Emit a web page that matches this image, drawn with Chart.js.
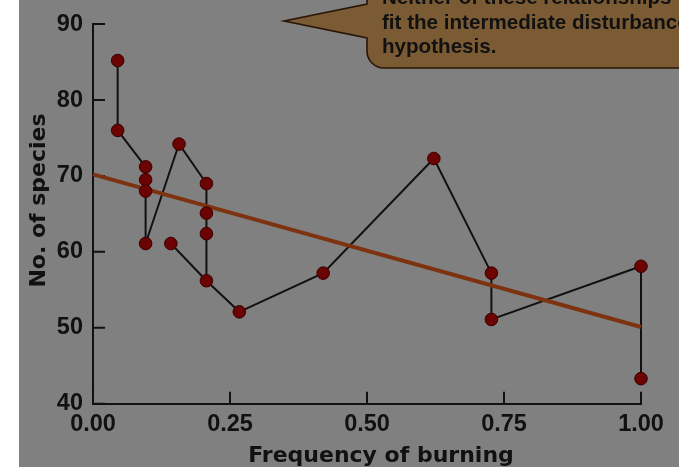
<!DOCTYPE html>
<html>
<head>
<meta charset="utf-8">
<script src="https://cdn.jsdelivr.net/npm/chart.js@4.4.1/dist/chart.umd.min.js"></script>
<style>
  html, body { margin: 0; padding: 0; background: #ffffff; }
  canvas { display: block; }
</style>
</head>
<body>
<canvas id="c" width="679" height="467"></canvas>
<script>
// Site-by-site species richness against burning frequency, joined in sequence
const burnFrequency = [0.045, 0.045, 0.096, 0.096, 0.096, 0.096, 0.157, 0.207, 0.207, 0.207, 0.207, 0.267, 0.42, 0.622, 0.727, 0.727, 1.0, 1.0];
const speciesCount  = [85.2, 76.0, 71.2, 69.5, 68.0, 61.1, 74.2, 69.0, 65.1, 62.4, 56.2, 52.1, 57.2, 72.3, 57.2, 51.1, 58.1, 43.3];

// Side branch joining the 0.14 site to the sequence
const branchFrequency = [0.142, 0.207];
const branchSpecies   = [61.1, 56.2];

// Linear regression through all sites
const fitFrequency = [0, 1];
const fitSpecies   = [70.2, 50.1];

const xTickValues = [0, 0.25, 0.5, 0.75, 1];
const yTickValues = [40, 50, 60, 70, 80, 90];

const xTitle = 'Frequency of burning';
const yTitle = 'No. of species';
const noteLines = ['Neither of these relationships', 'fit the intermediate disturbance', 'hypothesis.'];

const pairs = (xs, ys) => xs.map((x, i) => ({ x: x, y: ys[i] }));

const INK = '#111111';
const TITLE_FONT = 'bold 22px "DejaVu Sans"';

// White margin strip, grey panel behind the plot
const backdrop = {
  id: 'backdrop',
  beforeDraw(chart) {
    const { ctx, width, height } = chart;
    ctx.save();
    ctx.fillStyle = '#ffffff';
    ctx.fillRect(0, 0, width, height);
    ctx.fillStyle = '#808080';
    ctx.fillRect(19, 0, width - 19, height);
    ctx.restore();
  }
};

// Tick marks pointing into the plot area
const innerTicks = {
  id: 'innerTicks',
  beforeDatasetsDraw(chart) {
    const { ctx, chartArea: a } = chart;
    const xs = chart.scales.x, ys = chart.scales.y;
    ctx.save();
    ctx.strokeStyle = INK;
    ctx.lineWidth = 2;
    ctx.beginPath();
    xs.ticks.forEach(t => {
      const px = xs.getPixelForValue(t.value);
      ctx.moveTo(px, a.bottom);
      ctx.lineTo(px, a.bottom - 12);
    });
    ys.ticks.forEach(t => {
      const py = ys.getPixelForValue(t.value);
      ctx.moveTo(a.left, py);
      ctx.lineTo(a.left + 12, py);
    });
    ctx.stroke();
    ctx.restore();
  }
};

// Axis titles
const axisTitles = {
  id: 'axisTitles',
  afterDraw(chart) {
    const { ctx } = chart;
    ctx.save();
    ctx.fillStyle = INK;
    ctx.font = TITLE_FONT;
    ctx.textAlign = 'center';
    ctx.textBaseline = 'alphabetic';
    ctx.fillText(xTitle, 381, 462);
    ctx.translate(45, 200.5);
    ctx.rotate(-Math.PI / 2);
    ctx.fillText(yTitle, 0, 0);
    ctx.restore();
  }
};

// Speech-bubble note in the upper right
const note = {
  id: 'note',
  afterDraw(chart) {
    const { ctx, width } = chart;
    const L = 367, B = 68, r = 17, tipX = 284, tipY = 21;
    ctx.save();
    ctx.beginPath();
    ctx.moveTo(width + 10, -10);
    ctx.lineTo(L, -10);
    ctx.lineTo(L, 4);
    ctx.lineTo(tipX, tipY);
    ctx.lineTo(L, 38);
    ctx.lineTo(L, B - r);
    ctx.arcTo(L, B, L + r, B, r);
    ctx.lineTo(width + 10, B);
    ctx.closePath();
    ctx.fillStyle = '#7b5b34';
    ctx.fill();
    ctx.strokeStyle = '#2a1606';
    ctx.lineWidth = 1.6;
    ctx.stroke();

    ctx.fillStyle = INK;
    ctx.font = 'bold 20.6px "Liberation Sans"';
    ctx.textAlign = 'left';
    ctx.textBaseline = 'alphabetic';
    const baselines = [4, 28.5, 53];
    noteLines.forEach((line, i) => ctx.fillText(line, 382, baselines[i]));
    ctx.restore();
  }
};

const tickFont = { family: 'Liberation Sans', size: 23.5, weight: 'bold' };

new Chart(document.getElementById('c'), {
  type: 'scatter',
  data: {
    datasets: [
      {
        label: 'sequence',
        data: pairs(burnFrequency, speciesCount),
        showLine: true,
        borderColor: INK,
        borderWidth: 2,
        pointRadius: 0,
        order: 3,
        clip: false
      },
      {
        label: 'branch',
        data: pairs(branchFrequency, branchSpecies),
        showLine: true,
        borderColor: INK,
        borderWidth: 2,
        pointRadius: 0,
        order: 3,
        clip: false
      },
      {
        label: 'regression',
        data: pairs(fitFrequency, fitSpecies),
        showLine: true,
        borderColor: '#7e3310',
        borderWidth: 4,
        pointRadius: 0,
        order: 2,
        clip: false
      },
      {
        label: 'sites',
        data: pairs(burnFrequency, speciesCount).concat(pairs(branchFrequency.slice(0, 1), branchSpecies.slice(0, 1))),
        showLine: false,
        pointRadius: 6.3,
        pointBackgroundColor: '#6b0303',
        pointBorderColor: '#3a0000',
        pointBorderWidth: 1,
        order: 1,
        clip: false
      }
    ]
  },
  options: {
    responsive: false,
    animation: false,
    devicePixelRatio: 1,
    layout: { padding: { left: 0, right: 38, top: 20.7, bottom: 0 } },
    plugins: {
      legend: { display: false },
      tooltip: { enabled: false },
      title: { display: false }
    },
    scales: {
      x: {
        type: 'linear',
        min: 0,
        max: 1,
        afterBuildTicks: s => { s.ticks = xTickValues.map(v => ({ value: v })); },
        afterFit: s => { s.height = 63.3; },
        grid: { display: true, drawOnChartArea: false, drawTicks: false },
        border: { display: true, color: INK, width: 2 },
        ticks: {
          padding: 7,
          color: INK,
          font: tickFont,
          maxRotation: 0,
          autoSkip: false,
          callback: v => Number(v).toFixed(2)
        }
      },
      y: {
        type: 'linear',
        min: 40,
        max: 90,
        afterBuildTicks: s => { s.ticks = yTickValues.map(v => ({ value: v })); },
        afterFit: s => { s.width = 93; },
        grid: { display: true, drawOnChartArea: false, drawTicks: false },
        border: { display: true, color: INK, width: 2 },
        ticks: {
          padding: 10,
          color: INK,
          font: tickFont,
          autoSkip: false,
          callback: v => String(v)
        }
      }
    }
  },
  plugins: [backdrop, innerTicks, axisTitles, note]
});
</script>
</body>
</html>
